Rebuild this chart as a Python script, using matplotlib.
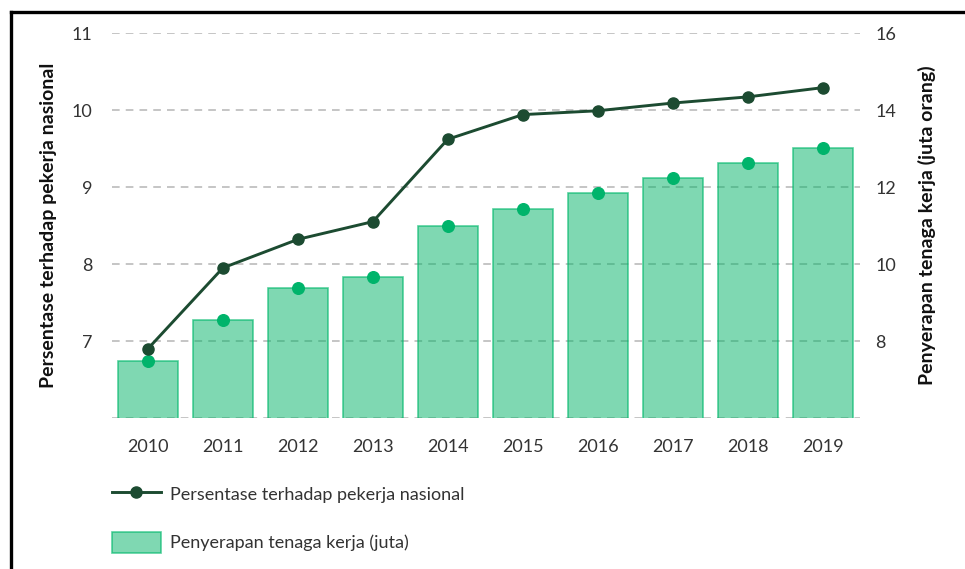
import matplotlib.pyplot as plt
from matplotlib.lines import Line2D

# ---------- DATA ----------
years = ["2010", "2011", "2012", "2013", "2014", "2015", "2016", "2017", "2018", "2019"]
persen_nasional = [6.90, 7.95, 8.32, 8.55, 9.62, 9.94, 9.99, 10.09, 10.17, 10.29]
serapan_juta = [7.48, 8.55, 9.38, 9.66, 10.99, 11.43, 11.84, 12.23, 12.62, 13.01]

left_ticks = [7, 8, 9, 10, 11]
right_ticks = [6, 8, 10, 12, 14, 16]
right_tick_labels = ["", "8", "10", "12", "14", "16"]

label_line = "Persentase terhadap pekerja nasional"
label_bar = "Penyerapan tenaga kerja (juta)"
ylabel_left = "Persentase terhadap pekerja nasional"
ylabel_right = "Penyerapan tenaga kerja (juta orang)"

# ---------- STYLE ----------
plt.rcParams.update({
    "font.family": ["Lato", "DejaVu Sans"],
    "font.size": 13,
})

DARK = "#1c4b31"
DOT = "#00b46b"
BAR_FILL = (0.0, 0.70, 0.40, 0.5)
BAR_EDGE = (0.0, 0.72, 0.42, 0.65)
TEXT = "#333333"

fig = plt.figure(figsize=(9.65, 5.69), dpi=100)
ax = fig.add_axes([112 / 965, 1 - 418 / 569, 748 / 965, 385 / 569])
ax2 = ax.twinx()

x = range(len(years))

# bars + dots on the right-scale axis (drawn first, below the line)
ax.set_axisbelow(True)
ax.grid(axis="y", color="#b5b5b5", linestyle=(0, (5, 4)), linewidth=1.1)
ax.bar(x, serapan_juta, width=0.8, color=BAR_FILL, edgecolor=BAR_EDGE,
       linewidth=1.2, zorder=2, label=label_bar)
ax.scatter(x, serapan_juta, s=70, color=DOT, zorder=3)
ax.set_ylim(6, 16)
ax.set_yticks(right_ticks, right_tick_labels)
ax.set_xlim(-0.48, 9.5)
ax.set_xticks(list(x), years)

# line on the left-scale axis
ax2.plot(x, persen_nasional, color=DARK, linewidth=2.1, marker="o",
         markersize=8, label=label_line)
ax2.set_ylim(6, 11)
ax2.set_yticks(left_ticks)

# swap sides: line scale on the left, bar scale on the right
ax.yaxis.tick_right()
ax.yaxis.set_label_position("right")
ax2.yaxis.tick_left()
ax2.yaxis.set_label_position("left")

for a in (ax, ax2):
    for s in a.spines.values():
        s.set_visible(False)
    a.tick_params(length=0, colors=TEXT, labelsize=13)
ax.tick_params(axis="x", pad=15)
ax.tick_params(axis="y", pad=11)
ax2.tick_params(axis="y", pad=14)

ax2.set_ylabel(ylabel_left, fontweight="bold", color="#111111", fontsize=14)
ax.set_ylabel(ylabel_right, fontweight="bold", color="#111111", fontsize=14,
              rotation=90)
ax2.yaxis.set_label_coords(-0.0735, 0.5)
ax.yaxis.set_label_coords(1.0775, 0.5)

# legend below the plot
h1, l1 = ax2.get_legend_handles_labels()
h2, l2 = ax.get_legend_handles_labels()
fig.legend(h1 + h2, l1 + l2, loc="upper left",
           bbox_to_anchor=(112 / 965, 1 - 484 / 569),
           frameon=False, borderpad=0, borderaxespad=0,
           handlelength=2.7, handleheight=1.35, handletextpad=0.5,
           labelspacing=1.55, fontsize=13, labelcolor=TEXT)

# black frame (top and left edges)
fig.add_artist(Line2D([11 / 965, 1], [1 - 12 / 569, 1 - 12 / 569],
                      color="black", linewidth=2.4,
                      transform=fig.transFigure))
fig.add_artist(Line2D([11 / 965, 11 / 965], [0, 1 - 12 / 569],
                      color="black", linewidth=2.4,
                      transform=fig.transFigure))

fig.savefig("out.png", dpi=100)
